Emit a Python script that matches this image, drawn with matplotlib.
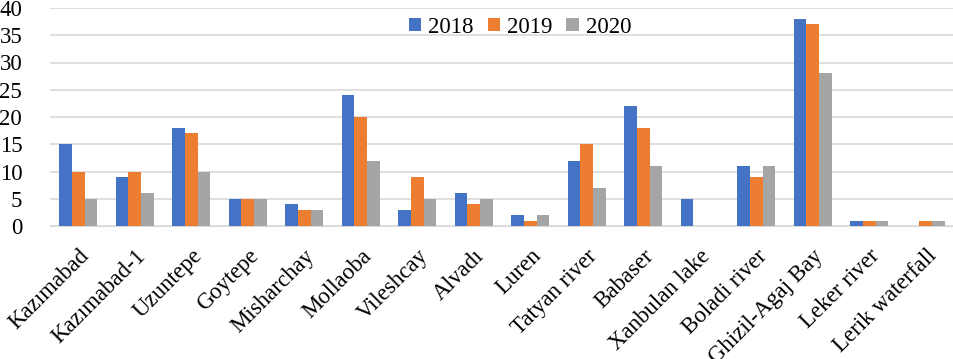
import numpy as np
import matplotlib
matplotlib.use("Agg")
from matplotlib import pyplot as plt

# data
sites = ["Kazımabad", "Kazımabad-1", "Uzuntepe", "Goytepe", "Misharchay", "Mollaoba",
         "Vileshcay", "Alvadı", "Luren", "Tatyan river", "Babaser", "Xanbulan lake",
         "Boladi river", "Ghizil-Agaj Bay", "Leker river", "Lerik waterfall"]
y2018 = [15, 9, 18, 5, 4, 24, 3, 6, 2, 12, 22, 5, 11, 38, 1, 0]
y2019 = [10, 10, 17, 5, 3, 20, 9, 4, 1, 15, 18, 0, 9, 37, 1, 1]
y2020 = [5, 6, 10, 5, 3, 12, 5, 5, 2, 7, 11, 0, 11, 28, 1, 1]

plt.rcParams['font.family'] = ['Liberation Serif', 'DejaVu Serif']

fig = plt.figure(figsize=(9.54, 3.59), dpi=100)
ax = fig.add_axes([50 / 954, 1 - 226 / 359, 1 - 50 / 954, (226 - 8) / 359])

x = np.arange(len(sites))
w = 0.225
ax.bar(x - w, y2018, w, color='#4472C4', label='2018', zorder=3)
ax.bar(x, y2019, w, color='#ED7D31', label='2019', zorder=3)
ax.bar(x + w, y2020, w, color='#A5A5A5', label='2020', zorder=3)

ax.set_xlim(-0.5, len(sites) - 0.5)
ax.set_ylim(0, 40)
ax.set_yticks(range(0, 41, 5))
ax.yaxis.grid(True, color='#D9D9D9', linewidth=1.2, zorder=0)
ax.set_xticks(x)
ax.set_xticklabels(sites, rotation=45, ha='right', rotation_mode='anchor')
ax.tick_params(axis='both', length=0, labelsize=16.5)
ax.tick_params(axis='y', pad=20)
ax.tick_params(axis='x', pad=14)
for s in ['top', 'right', 'left']:
    ax.spines[s].set_visible(False)
ax.spines['bottom'].set_color('#D9D9D9')

ax.legend(loc='upper center', bbox_to_anchor=(0.520, 1.055), ncol=3, frameon=False,
          fontsize=16.5, handlelength=0.55, handleheight=0.55, handletextpad=0.3,
          columnspacing=0.6)

plt.savefig('out.png', dpi=100)
